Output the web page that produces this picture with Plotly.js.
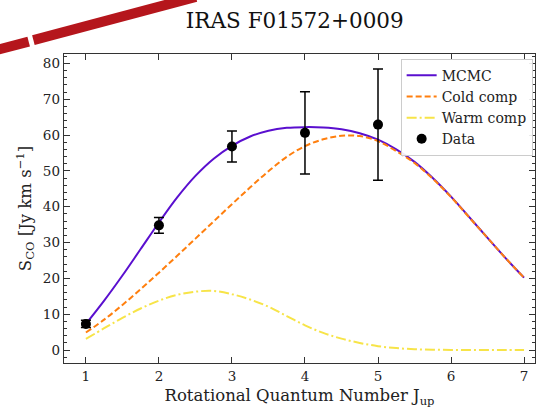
<!DOCTYPE html>
<html>
<head>
<meta charset="utf-8">
<script src="https://cdn.plot.ly/plotly-3.0.1.min.js"></script>
<style>html,body{margin:0;padding:0;background:#fff;}#chart{width:551px;height:419px;}</style>
</head>
<body>
<div id="chart"></div>
<script>
const jModel = [1, 1.25, 1.5, 1.75, 2, 2.25, 2.5, 2.75, 3, 3.25, 3.5, 3.75, 4, 4.25, 4.5, 4.75, 5, 5.25, 5.5, 5.75, 6, 6.25, 6.5, 6.75, 7];
const mcmc = [7.3, 13.8, 20.8, 28.2, 35.6, 42.6, 48.6, 53.4, 57.0, 59.6, 61.2, 62.0, 62.2, 62.1, 61.6, 60.5, 58.7, 56.0, 52.5, 48.0, 42.8, 37.1, 31.3, 25.6, 20.2];
const cold = [4.9, 8.5, 12.6, 17.0, 21.6, 26.3, 31.1, 35.9, 40.7, 45.4, 49.9, 53.9, 56.9, 58.8, 59.8, 59.7, 58.3, 55.5, 52.2, 47.8, 42.7, 37.0, 31.3, 25.6, 20.2];
const warm = [3.1, 6.1, 9.0, 11.6, 13.8, 15.4, 16.3, 16.5, 15.6, 14.1, 12.1, 9.5, 6.9, 4.8, 3.2, 2.0, 1.1, 0.55, 0.25, 0.12, 0.06, 0.03, 0.01, 0.0, 0.0];
const jData = [1, 2, 3, 4, 5];
const sData = [7.3, 34.8, 56.8, 60.6, 62.9];
const sErr = [1.0, 2.2, 4.3, 11.5, 15.5];

const serif = "DejaVu Serif";
const traces = [
  {x: jModel, y: mcmc, mode: 'lines', name: 'MCMC', line: {color: '#5a0fcf', width: 2, shape: 'spline', smoothing: 1}},
  {x: jModel, y: cold, mode: 'lines', name: 'Cold comp', line: {color: '#ff7f0e', width: 2, dash: '6px,3px', shape: 'spline', smoothing: 1}},
  {x: jModel, y: warm, mode: 'lines', name: 'Warm comp', line: {color: '#f7e448', width: 2, dash: '10px,3px,2px,3px', shape: 'spline', smoothing: 1}},
  {x: jData, y: sData, mode: 'markers', name: 'Data', marker: {color: 'black', size: 10},
   error_y: {type: 'data', array: sErr, visible: true, color: 'black', thickness: 1.5, width: 5}}
];
const axisCommon = {
  showgrid: false, zeroline: false, showline: true, mirror: 'allticks',
  linecolor: '#333', linewidth: 1.3, ticks: 'inside', ticklen: 6, tickwidth: 1, tickcolor: '#333',
  tickfont: {family: serif, size: 13.5, color: '#222'}
};
const layout = {
  width: 551, height: 419,
  margin: {l: 64, r: 16, t: 54, b: 56},
  paper_bgcolor: '#fff', plot_bgcolor: '#fff',
  title: {text: 'IRAS F01572+0009', font: {family: serif, size: 21.5, color: '#111'}, x: 0.535, xanchor: 'center', y: 0.95, yanchor: 'middle'},
  xaxis: Object.assign({}, axisCommon, {range: [0.7, 7.15], tickmode: 'linear', tick0: 1, dtick: 1,
    title: {text: 'Rotational Quantum Number J<sub>up</sub>', font: {family: serif, size: 16.5, color: '#222'}, standoff: 7}}),
  yaxis: Object.assign({}, axisCommon, {range: [-3.6, 82.6], tickmode: 'linear', tick0: 0, dtick: 10,
    minor: {dtick: 2, ticks: 'inside', ticklen: 3, tickcolor: '#333', showgrid: false},
    title: {text: 'S<sub>CO</sub> [Jy km s<sup>−1</sup>]', font: {family: serif, size: 16.5, color: '#222'}, standoff: 7}}),
  legend: {x: 0.995, xanchor: 'right', y: 0.985, yanchor: 'top', bgcolor: 'rgba(255,255,255,0.9)',
    bordercolor: '#ccc', borderwidth: 1, font: {family: serif, size: 14, color: '#222'}, tracegroupgap: 0, itemwidth: 30},
  showlegend: true,
  shapes: [
    {type: 'line', xref: 'paper', yref: 'paper', x0: -0.15, y0: 1.01, x1: -0.075, y1: 1.04, line: {color: '#b5161c', width: 10}},
    {type: 'line', xref: 'paper', yref: 'paper', x0: -0.065, y0: 1.045, x1: 0.28, y1: 1.185, line: {color: '#b5161c', width: 10}}
  ]
};
Plotly.newPlot('chart', traces, layout, {displayModeBar: false, staticPlot: true});
</script>
</body>
</html>
